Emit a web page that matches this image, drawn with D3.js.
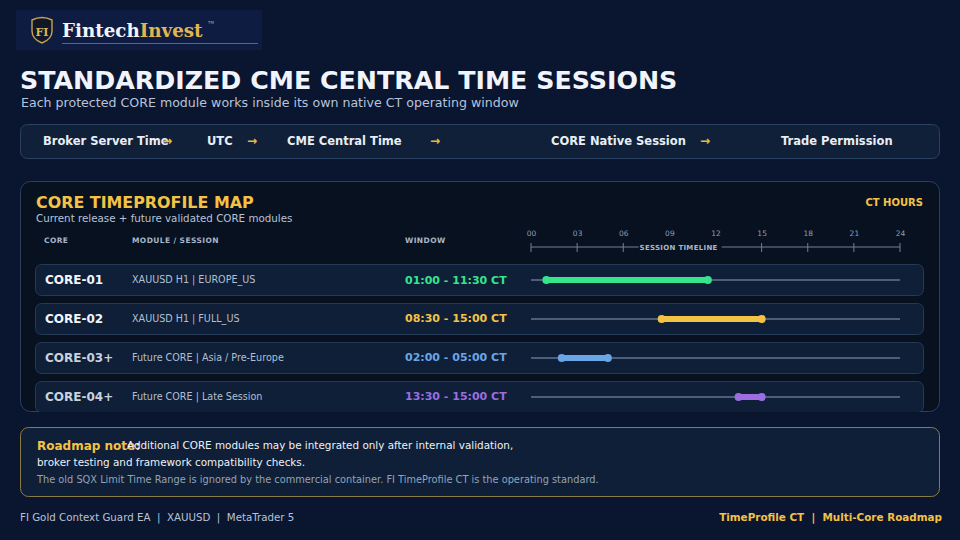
<!DOCTYPE html>
<html>
<head>
<meta charset="utf-8">
<script src="https://cdn.jsdelivr.net/npm/d3@7"></script>
<style>
  html, body { margin: 0; padding: 0; background: #0a1530; }
  svg { display: block; font-family: "DejaVu Sans", sans-serif; }
  text { white-space: pre; }
</style>
</head>
<body>
<div id="wrapper"></div>
<script>
// data
const cores = ["CORE-01", "CORE-02", "CORE-03+", "CORE-04+"];
const modules = ["XAUUSD H1 | EUROPE_US", "XAUUSD H1 | FULL_US", "Future CORE | Asia / Pre-Europe", "Future CORE | Late Session"];
const windowLabels = ["01:00 - 11:30 CT", "08:30 - 15:00 CT", "02:00 - 05:00 CT", "13:30 - 15:00 CT"];
const startHours = [1, 8.5, 2, 13.5];
const endHours = [11.5, 15, 5, 15];
const isCurrent = [true, true, false, false];
const hourTicks = [0, 3, 6, 9, 12, 15, 18, 21, 24];
const flowSteps = ["Broker Server Time", "UTC", "CME Central Time", "CORE Native Session", "Trade Permission"];

const colors = ["#35e58c", "#f4c244", "#6aa6e6", "#9b6de0"];

function buildChart() {
    const dimension = { width: 960, height: 540 };

    const svg = d3.select("#wrapper").append("svg")
        .attr("width", dimension.width)
        .attr("height", dimension.height);

    svg.append("rect").attr("width", 960).attr("height", 540).attr("fill", "#0a1530");

    // logo block
    const logo = svg.append("g");
    logo.append("rect").attr("x", 16).attr("y", 10).attr("width", 246).attr("height", 40)
        .attr("fill", "#0e1c42");
    logo.append("path")
        .attr("d", "M32,20 Q42,15 52,20 L52,31 Q52,39 42,43 Q32,39 32,31 Z")
        .attr("fill", "#101828").attr("stroke", "#c9a24a").attr("stroke-width", 1.4);
    logo.append("text").attr("x", 42).attr("y", 36).attr("text-anchor", "middle")
        .attr("font-family", "DejaVu Serif, serif").attr("font-weight", "bold")
        .attr("font-size", 11).attr("fill", "#d9b45a").text("FI");
    const brand = logo.append("text").attr("x", 62).attr("y", 37)
        .attr("font-family", "DejaVu Serif, serif").attr("font-weight", "bold").attr("font-size", 18.3);
    brand.append("tspan").attr("fill", "#f2f4fa").text("Fintech");
    brand.append("tspan").attr("fill", "#e1b54f").text("Invest");
    logo.append("text").attr("x", 208).attr("y", 24).attr("font-size", 4).attr("fill", "#9aa4bc").text("TM");
    logo.append("line").attr("x1", 62).attr("x2", 258).attr("y1", 43.5).attr("y2", 43.5)
        .attr("stroke", "#5a6788").attr("stroke-width", 1);

    // title
    svg.append("text").attr("x", 20).attr("y", 89)
        .attr("font-weight", "bold").attr("font-size", 25.3).attr("fill", "#f1f4fb")
        .text("STANDARDIZED CME CENTRAL TIME SESSIONS");
    svg.append("text").attr("x", 21).attr("y", 107)
        .attr("font-size", 12.6).attr("fill", "#b7c3d8")
        .text("Each protected CORE module works inside its own native CT operating window");

    // flow bar
    svg.append("rect").attr("x", 20.5).attr("y", 124.5).attr("width", 919).attr("height", 34)
        .attr("rx", 7).attr("fill", "#0f2038").attr("stroke", "#2b415f");
    const flowX = [43, 207, 287, 551, 781];
    const arrowX = [162, 247, 430, 700];
    svg.selectAll(".flow").data(flowSteps).join("text")
        .attr("x", (d, i) => flowX[i]).attr("y", 145)
        .attr("font-weight", "bold").attr("font-size", 11.5).attr("fill", "#e9edf5")
        .text(d => d);
    svg.selectAll(".arrow").data(arrowX).join("text")
        .attr("x", d => d).attr("y", 145)
        .attr("font-weight", "bold").attr("font-size", 12).attr("fill", "#e8b93f")
        .text("→");

    // map panel
    svg.append("rect").attr("x", 20.5).attr("y", 181.5).attr("width", 919).attr("height", 230)
        .attr("rx", 10).attr("fill", "#07111f").attr("stroke", "#2b415f");
    svg.append("text").attr("x", 36).attr("y", 208)
        .attr("font-weight", "bold").attr("font-size", 15.9).attr("fill", "#f4c244")
        .text("CORE TIMEPROFILE MAP");
    svg.append("text").attr("x", 36).attr("y", 222)
        .attr("font-size", 10.3).attr("fill", "#b7c3d8")
        .text("Current release + future validated CORE modules");
    svg.append("text").attr("x", 923).attr("y", 206).attr("text-anchor", "end")
        .attr("font-weight", "bold").attr("font-size", 10).attr("fill", "#f4c244")
        .text("CT HOURS");

    const headers = [["CORE", 44], ["MODULE / SESSION", 132], ["WINDOW", 405]];
    svg.selectAll(".hdr").data(headers).join("text")
        .attr("x", d => d[1]).attr("y", 243)
        .attr("font-weight", "bold").attr("font-size", 7.5).attr("fill", "#a8b6ca")
        .attr("letter-spacing", 0.4)
        .text(d => d[0]);

    // scales
    const x = d3.scaleLinear().domain([0, 24]).range([531, 900]);
    const y = d3.scaleBand().domain(cores).range([264, 412]).paddingInner(0.205).paddingOuter(0);

    // session timeline axis
    const axisY = 247;
    const tickAxis = d3.axisTop(x).tickValues(hourTicks).tickSize(0).tickPadding(0)
        .tickFormat(d => d3.format("02d")(d));
    const axisG = svg.append("g").attr("transform", `translate(0,${axisY - 11})`).call(tickAxis);
    axisG.select(".domain").remove();
    axisG.selectAll("text").attr("font-size", 7.5).attr("fill", "#8d9fb7")
        .attr("font-family", "DejaVu Sans, sans-serif").attr("dy", 0);

    svg.append("line").attr("x1", x(0)).attr("x2", x(24)).attr("y1", axisY).attr("y2", axisY)
        .attr("stroke", "#6f8299").attr("stroke-width", 1);
    svg.selectAll(".tk").data(hourTicks.filter(d => d !== 9 && d !== 12)).join("line")
        .attr("x1", d => x(d)).attr("x2", d => x(d))
        .attr("y1", axisY - 4).attr("y2", axisY + 5)
        .attr("stroke", "#6f8299").attr("stroke-width", 1);
    svg.append("rect").attr("x", x(7.0)).attr("y", axisY - 5).attr("width", x(12.4) - x(7.0)).attr("height", 10)
        .attr("fill", "#07111f");
    svg.append("text").attr("x", x(9.6)).attr("y", axisY + 3).attr("text-anchor", "middle")
        .attr("font-weight", "bold").attr("font-size", 7).attr("fill", "#a8b6ca")
        .attr("letter-spacing", 0.3)
        .text("SESSION TIMELINE");

    // rows
    const clip = svg.append("defs").append("clipPath").attr("id", "panelClip");
    clip.append("rect").attr("x", 20).attr("y", 181).attr("width", 920).attr("height", 231).attr("rx", 10);

    const rows = svg.append("g").attr("clip-path", "url(#panelClip)")
        .selectAll("g").data(cores).join("g")
        .attr("transform", d => `translate(0,${y(d)})`);
    const bh = y.bandwidth();

    rows.append("rect").attr("x", 35.5).attr("y", 0.5).attr("width", 888).attr("height", bh)
        .attr("rx", 6).attr("fill", "#0e1f37").attr("stroke", "#253a57");
    rows.append("text").attr("x", 45).attr("y", bh / 2 + 4.5)
        .attr("font-weight", "bold").attr("font-size", 12)
        .attr("fill", (d, i) => isCurrent[i] ? "#f3f5fa" : "#c9d1dd")
        .text(d => d);
    rows.append("text").attr("x", 132).attr("y", bh / 2 + 3.5)
        .attr("font-size", 9.6).attr("fill", "#b3bfd2")
        .text((d, i) => modules[i]);
    rows.append("text").attr("x", 405).attr("y", bh / 2 + 4)
        .attr("font-weight", "bold").attr("font-size", 11)
        .attr("fill", (d, i) => colors[i])
        .text((d, i) => windowLabels[i]);

    rows.append("line").attr("x1", x(0)).attr("x2", x(24)).attr("y1", bh / 2 + 0.5).attr("y2", bh / 2 + 0.5)
        .attr("stroke", "#4b5f78").attr("stroke-width", 2);
    rows.append("line")
        .attr("x1", (d, i) => x(startHours[i])).attr("x2", (d, i) => x(endHours[i]))
        .attr("y1", bh / 2 + 0.5).attr("y2", bh / 2 + 0.5)
        .attr("stroke", (d, i) => colors[i]).attr("stroke-width", 6).attr("stroke-linecap", "round");
    rows.append("circle").attr("cx", (d, i) => x(startHours[i])).attr("cy", bh / 2 + 0.5).attr("r", 4)
        .attr("fill", (d, i) => colors[i]);
    rows.append("circle").attr("cx", (d, i) => x(endHours[i])).attr("cy", bh / 2 + 0.5).attr("r", 4)
        .attr("fill", (d, i) => colors[i]);

    // roadmap note
    svg.append("rect").attr("x", 20.5).attr("y", 427.5).attr("width", 919).attr("height", 69)
        .attr("rx", 8).attr("fill", "#0e1f37").attr("stroke", "#8a7b45");
    svg.append("text").attr("x", 37).attr("y", 450)
        .attr("font-weight", "bold").attr("font-size", 12).attr("fill", "#f4c244")
        .text("Roadmap note:");
    svg.append("text").attr("x", 127).attr("y", 449)
        .attr("font-size", 10.4).attr("fill", "#eef1f7")
        .text("Additional CORE modules may be integrated only after internal validation,");
    svg.append("text").attr("x", 37).attr("y", 466)
        .attr("font-size", 10.4).attr("fill", "#eef1f7")
        .text("broker testing and framework compatibility checks.");
    svg.append("text").attr("x", 37).attr("y", 483)
        .attr("font-size", 9.8).attr("fill", "#95a3b8")
        .text("The old SQX Limit Time Range is ignored by the commercial container. FI TimeProfile CT is the operating standard.");

    // footer
    svg.append("text").attr("x", 20).attr("y", 521)
        .attr("font-size", 10.25).attr("fill", "#b7c3d8")
        .text("FI Gold Context Guard EA  |  XAUUSD  |  MetaTrader 5");
    svg.append("text").attr("x", 942).attr("y", 521).attr("text-anchor", "end")
        .attr("font-weight", "bold").attr("font-size", 10.4).attr("fill", "#f4c244")
        .text("TimeProfile CT  |  Multi-Core Roadmap");
}

buildChart();
</script>
</body>
</html>
